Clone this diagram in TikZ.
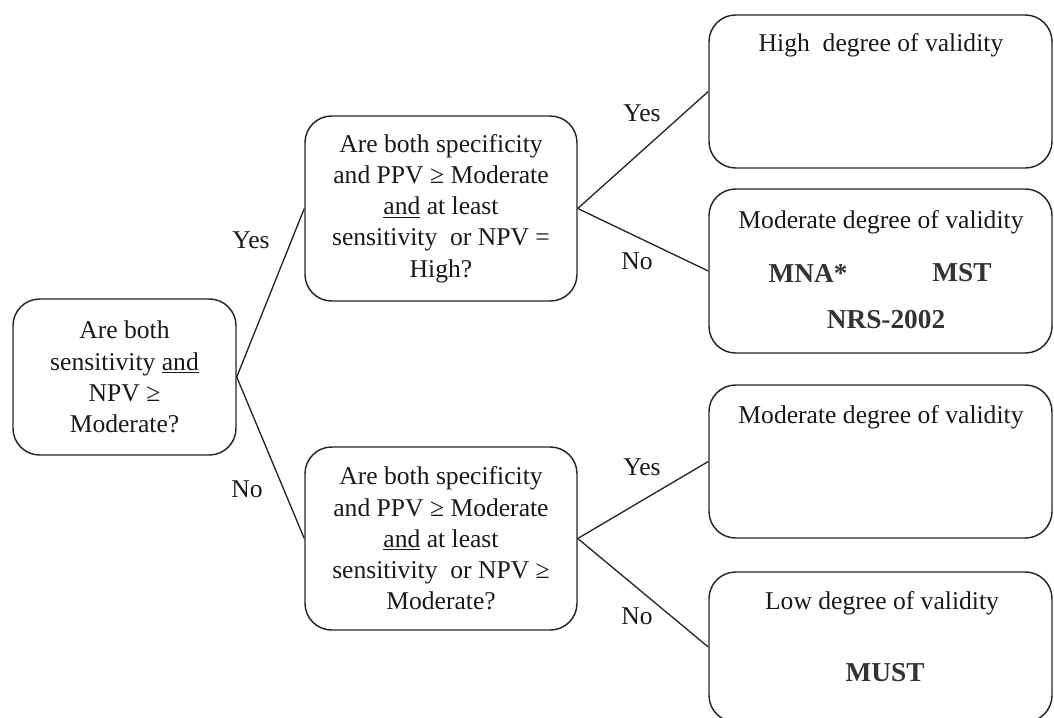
\documentclass[tikz,border=0pt]{standalone}
\usepackage{fontspec}
\setmainfont{Liberation Serif}
\begin{document}
\begin{tikzpicture}[x=0.75pt,y=-0.75pt,
  box/.style={draw=black!85,line width=1.1pt,rounded corners=20pt,inner sep=0pt,align=center,
    font=\fontsize{19.2pt}{23.4pt}\selectfont,text=black!90},
  lbl/.style={font=\fontsize{19.2pt}{23.4pt}\selectfont,text=black!90,inner sep=0pt},
  bld/.style={font=\fontsize{20.5pt}{24pt}\selectfont\bfseries,text=black!80,inner sep=0pt},
  conn/.style={draw=black!85,line width=1pt}]
\useasboundingbox (0,0) rectangle (1054,718);
\clip (0,0) rectangle (1054,718);
% question boxes
\node[box,minimum width=167.25pt,minimum height=117pt] (q1) at (124.5,377)
  {Are both\\ sensitivity \underline{and}\\ NPV ≥\\ Moderate?};
\node[box,minimum width=204pt,minimum height=138.75pt] (q2) at (441,208.5)
  {Are both specificity\\ and PPV ≥ Moderate\\ \underline{and} at least\\ sensitivity~ or NPV =\\ High?};
\node[box,minimum width=204pt,minimum height=137.25pt] (q3) at (441,538.5)
  {Are both specificity\\ and PPV ≥ Moderate\\ \underline{and} at least\\ sensitivity~ or NPV ≥\\ Moderate?};
% outcome boxes
\node[box,minimum width=257.25pt,minimum height=114.75pt] (r1) at (880.5,91.5) {};
\node[box,minimum width=257.25pt,minimum height=123pt] (r2) at (880.5,271) {};
\node[box,minimum width=257.25pt,minimum height=114.75pt] (r3) at (880.5,461.5) {};
\node[box,minimum width=257.25pt,minimum height=112.5pt] (r4) at (880.5,647) {};
% outcome texts
\node[lbl] (t1) at (881,45) {High~ degree of validity};
\node[lbl] (t2) at (881,222) {Moderate degree of validity};
\node[bld] (mna) at (808,273) {MNA*};
\node[bld] (mst) at (962,273) {MST};
\node[bld] (nrs) at (886,320) {NRS-2002};
\node[lbl] (t3) at (881,417) {Moderate degree of validity};
\node[lbl] (t4) at (882,603) {Low degree of validity};
\node[bld] (must) at (885,673) {MUST};
% connectors
\draw[conn] (q1.east) -- (q2.west);
\draw[conn] (q1.east) -- (q3.west);
\draw[conn] (q2.east) -- (r1.west);
\draw[conn] (q2.east) -- (r2.west);
\draw[conn] (q3.east) -- (r3.west);
\draw[conn] (q3.east) -- (r4.west);
% labels
\node[lbl] (y1) at (251,240) {Yes};
\node[lbl] (n1) at (247,489) {No};
\node[lbl] (y2) at (642,113) {Yes};
\node[lbl] (n2) at (637,261) {No};
\node[lbl] (y3) at (642,467) {Yes};
\node[lbl] (n3) at (637,616) {No};
\end{tikzpicture}
\end{document}
